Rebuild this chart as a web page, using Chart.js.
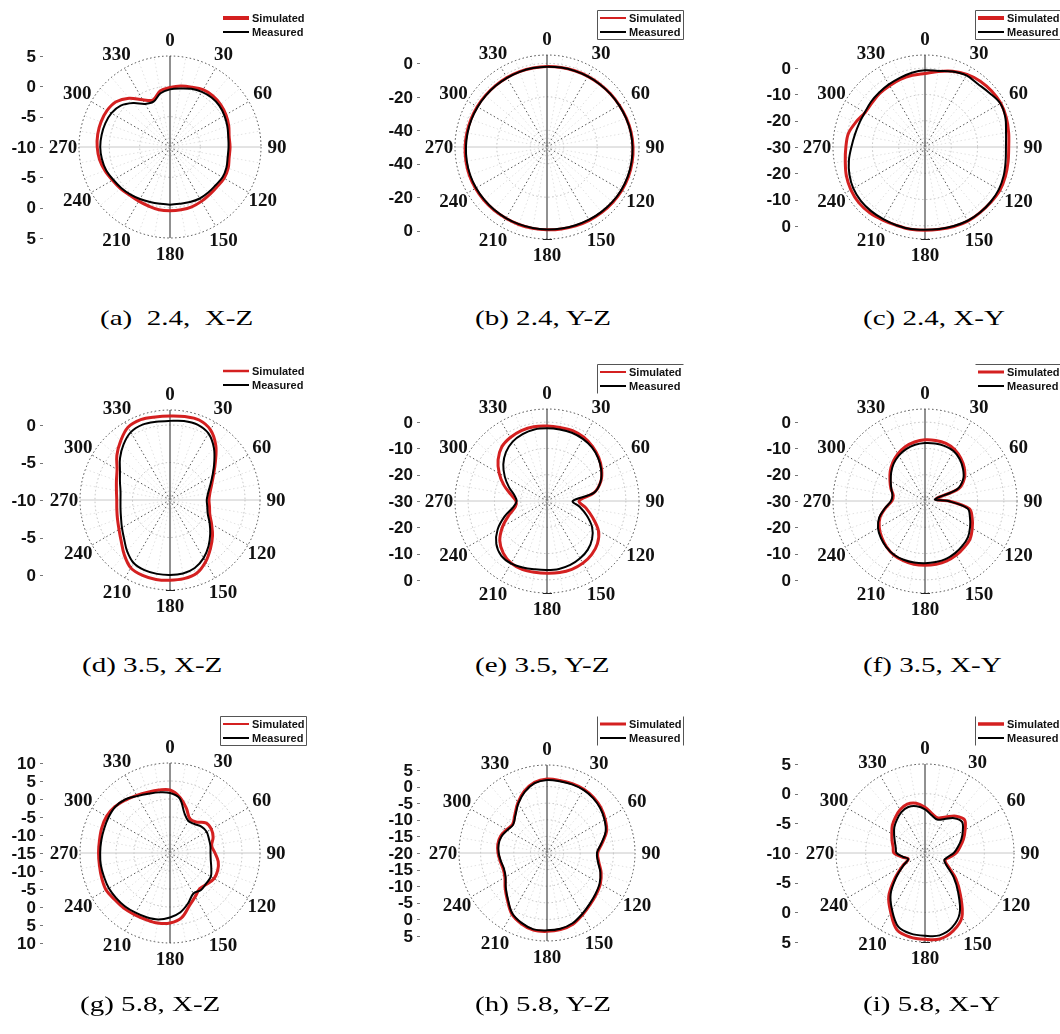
<!DOCTYPE html>
<html>
<head>
<meta charset="utf-8">
<script src="https://cdn.jsdelivr.net/npm/chart.js@4.4.0/dist/chart.umd.min.js"></script>
<style>
  html, body { margin: 0; padding: 0; background: #fff; overflow: hidden; }
  #page { position: relative; width: 1060px; height: 1034px; }
  #page canvas { position: absolute; }
  .cap {
    position: absolute;
    font-family: "Liberation Serif", "Times New Roman", serif;
    font-size: 22px;
    line-height: 22px;
    white-space: pre;
    color: #000;
    transform-origin: 0 0;
    transform: scaleX(1.32);
  }
</style>
</head>
<body>
<div id="page"></div>
<script>
// 角度 (每 10 度一个点)
const angles = [0, 10, 20, 30, 40, 50, 60, 70, 80, 90, 100, 110, 120, 130, 140, 150, 160, 170,
                180, 190, 200, 210, 220, 230, 240, 250, 260, 270, 280, 290, 300, 310, 320, 330, 340, 350];
const angleTicks = [0, 30, 60, 90, 120, 150, 180, 210, 240, 270, 300, 330];

// (a) 2.4, X-Z
const simA = [-0.2, 0.2, 0.5, 0.9, 1.0, 0.9, 0.65, 0.3, -0.1, -0.1, -0.1, 0.2, 0.3, 0.15, 0.2, 0.35, 0.5, 0.5,
              0.5, 0.5, 0.35, 0.3, 0.35, 0.65, 0.95, 1.4, 1.8, 2.0, 2.1, 2.1, 2.0, 1.6, 0.5, -1.0, -1.75, -0.6];
const measA = [-0.5, -0.2, 0.2, 0.5, 0.65, 0.6, 0.35, 0.05, -0.25, -0.35, -0.35, -0.1, 0.0, -0.2, -0.2, -0.2, -0.35, -0.5,
               -0.5, -0.5, -0.35, -0.1, 0.2, 0.5, 0.8, 1.2, 1.4, 1.5, 1.45, 1.35, 1.15, 0.6, -0.55, -1.8, -2.05, -1.0];
const ticksA = [5, 0, -5, -10];

// (b) 2.4, Y-Z
const simB = [-1.9, -1.7, -1.5, -1.2, -0.9, -0.5, -0.05, 0.5, 1.05, 1.45, 1.7, 1.8, 1.7, 1.45, 1.05, 0.6, 0.15, -0.25,
              -0.5, -0.6, -0.7, -0.8, -0.7, -0.65, -0.6, -0.6, -0.8, -1.05, -1.35, -1.6, -1.8, -2.0, -2.1, -2.1, -2.05, -2.0];
const measB = [-2.0, -1.8, -1.6, -1.3, -1.0, -0.6, -0.2, 0.3, 0.8, 1.1, 1.3, 1.4, 1.3, 1.0, 0.6, 0.2, -0.2, -0.5,
               -0.7, -0.8, -0.9, -0.95, -0.95, -1.0, -1.05, -1.1, -1.3, -1.55, -1.75, -1.95, -2.1, -2.2, -2.25, -2.25, -2.2, -2.1];
const ticksB = [0, -20, -40];

// (c) 2.4, X-Y
const simC = [-2.0, -0.8, 0.7, 1.9, 2.7, 3.1, 3.3, 2.9, 2.3, 1.85, 2.1, 2.55, 2.9, 2.7, 2.55, 2.55, 2.2, 1.8,
              1.7, 1.8, 1.75, 2.1, 2.7, 2.9, 2.55, 1.85, 0.8, 0.1, -0.4, -2.1, -3.7, -3.75, -3.3, -3.05, -2.6, -2.3];
const measC = [-0.8, -0.6, 0.6, 1.5, 1.3, 2.0, 3.1, 2.55, 1.3, 0.8, 1.15, 1.85, 2.4, 2.55, 2.55, 2.4, 2.0, 1.7,
               1.5, 1.7, 1.7, 1.7, 1.85, 1.85, 1.5, 0.6, -0.6, -2.0, -2.9, -3.4, -3.6, -3.2, -2.9, -2.5, -2.0, -1.3];
const ticksC = [0, -10, -20, -30];

// (d) 3.5, X-Z
const simD = [1.2, 1.3, 1.35, 0.8, -0.5, -2.1, -3.3, -4.1, -4.6, -4.8, -4.65, -4.35, -3.6, -2.6, -1.6, -0.5, 0.4, 0.65,
              0.7, 0.75, 0.7, 0.45, -0.5, -1.5, -2.15, -2.55, -2.8, -2.9, -2.75, -2.4, -1.85, -0.75, 0.25, 1.2, 1.4, 1.25];
const measD = [0.55, 0.7, 0.7, 0.25, -0.9, -2.3, -3.45, -4.3, -4.85, -5.1, -4.95, -4.65, -3.9, -3.0, -2.0, -1.05, -0.35, -0.05,
               0.0, 0.0, -0.05, -0.3, -1.1, -2.0, -2.6, -3.05, -3.3, -3.4, -3.3, -2.9, -2.3, -1.3, -0.35, 0.45, 0.7, 0.6];
const ticksD = [0, -5, -10];

// (e) 3.5, Y-Z
const simE = [-1.5, -1.6, -1.5, -2.0, -3.0, -4.3, -6.0, -8.2, -11.8, -17.8, -15.0, -11.5, -7.4, -4.9, -3.5, -2.7, -2.35, -2.35,
              -2.5, -2.5, -2.35, -2.7, -4.1, -6.55, -10.5, -14.7, -17.8, -18.2, -16.1, -12.6, -9.0, -5.7, -3.2, -2.1, -1.5, -1.3];
const measE = [-2.35, -2.35, -2.35, -2.7, -3.4, -4.6, -6.2, -8.3, -11.8, -20.2, -17.4, -13.9, -10.2, -7.6, -5.85, -4.8, -4.1, -3.75,
               -3.75, -3.6, -3.05, -2.55, -2.9, -4.8, -8.3, -12.85, -17.05, -18.45, -17.4, -14.6, -11.45, -8.3, -5.7, -3.9, -2.9, -2.35];
const ticksE = [0, -10, -20, -30];

// (f) 3.5, X-Y
const simF = [-6.7, -6.6, -6.7, -7.4, -8.8, -10.5, -12.7, -16.4, -25.8, -20.9, -12.9, -10.9, -9.25, -7.6, -6.9, -6.2, -5.75, -5.6,
              -5.55, -5.55, -5.85, -6.25, -7.25, -8.5, -9.9, -11.8, -14.8, -17.4, -17.75, -16.2, -14.6, -12.7, -10.9, -9.35, -8.05, -7.2];
const measF = [-7.95, -7.8, -7.8, -8.1, -9.35, -11.1, -13.2, -17.05, -26.15, -21.25, -13.55, -11.8, -10.2, -8.65, -7.8, -7.1, -6.55, -6.4,
               -6.3, -6.2, -6.2, -6.4, -7.1, -8.1, -9.35, -11.45, -14.6, -17.05, -17.4, -16.35, -14.95, -13.2, -11.45, -10.05, -9.0, -8.3];
const ticksF = [0, -10, -20, -30];

// (g) 5.8, X-Z
const simG = [2.5, 0.75, -1.75, -4.0, -3.75, -2.0, -1.75, -2.25, -3.25, -2.5, -1.4, -0.9, -0.85, -1.6, -2.1, -1.0, 0.65, 3.3,
              4.45, 4.75, 4.65, 4.75, 5.0, 5.1, 5.5, 5.2, 4.9, 4.85, 4.9, 5.2, 5.35, 5.0, 4.2, 3.5, 3.0, 2.75];
const measG = [1.65, 0.4, -3.25, -4.75, -4.5, -3.6, -3.25, -3.5, -3.6, -3.75, -3.5, -2.8, -1.9, -1.85, -1.6, -2.0, -0.2, 1.7,
               2.9, 3.75, 4.0, 4.15, 4.4, 4.5, 4.6, 4.5, 4.5, 4.4, 4.4, 4.5, 4.75, 4.9, 4.4, 3.25, 2.5, 2.1];
const ticksG = [10, 5, 0, -5, -10, -15];

// (h) 5.8, Y-Z
const simH = [2.25, 2.2, 2.25, 2.2, 1.85, 1.2, 0.25, -0.9, -3.15, -4.75, -4.15, -2.65, -1.45, -0.65, 0.25, 1.45, 2.8, 3.4,
              3.6, 3.6, 2.65, 1.2, -1.45, -3.55, -5.35, -5.95, -5.7, -5.25, -4.95, -5.15, -5.95, -6.5, -4.95, -2.5, -0.15, 1.6];
const measH = [2.0, 1.95, 2.0, 1.95, 1.6, 0.95, 0.0, -1.2, -3.4, -4.95, -4.4, -2.9, -1.7, -0.9, 0.0, 1.2, 2.5, 3.15,
               3.3, 3.35, 2.4, 0.95, -1.7, -3.8, -5.6, -6.2, -5.9, -5.45, -5.2, -5.4, -6.2, -6.7, -5.2, -2.75, -0.4, 1.35];
const ticksH = [5, 0, -5, -10, -15, -20];

// (i) 5.8, X-Y
const simI = [-2.3, -3.25, -3.7, -3.0, -1.9, -1.3, -2.2, -3.1, -4.0, -4.75, -5.8, -6.4, -5.5, -3.2, -0.7, 2.45, 3.95, 4.7,
              4.55, 4.4, 3.8, 1.55, -0.5, -3.4, -5.65, -7.0, -6.1, -4.75, -4.55, -4.1, -3.55, -2.8, -2.2, -1.6, -1.25, -1.5];
const measI = [-2.65, -3.55, -4.0, -3.4, -2.35, -1.85, -2.65, -3.5, -4.4, -5.15, -6.1, -6.55, -5.8, -3.7, -1.3, 1.7, 3.35, 4.1,
               3.95, 3.8, 3.2, 1.1, -1.0, -3.7, -5.8, -7.0, -6.25, -5.2, -5.0, -4.6, -4.0, -3.25, -2.65, -2.05, -1.75, -2.0];
const ticksI = [5, 0, -5, -10];

const captions = ['(a)  2.4,  X-Z', '(b) 2.4, Y-Z', '(c) 2.4, X-Y',
                  '(d) 3.5, X-Z', '(e) 3.5, Y-Z', '(f) 3.5, X-Y',
                  '(g) 5.8, X-Z', '(h) 5.8, Y-Z', '(i) 5.8, X-Y'];

// 每个子图的布局
const panels = [
  { sim: simA, meas: measA, ticks: ticksA, min: -10, max: 5,   step: 5,  cx: 170, cy: 147, R: 91, legW: 4,   frame: '',     cap180: false, capX: 100, capY: 307 },
  { sim: simB, meas: measB, ticks: ticksB, min: -50, max: 5,   step: 20, cx: 547, cy: 147, R: 92, legW: 2,   frame: 'tblr', cap180: true,  capX: 475, capY: 307 },
  { sim: simC, meas: measC, ticks: ticksC, min: -30, max: 5,   step: 10, cx: 925, cy: 147, R: 92, legW: 4,   frame: 'tblr', cap180: true,  capX: 863, capY: 307 },
  { sim: simD, meas: measD, ticks: ticksD, min: -10, max: 2,   step: 5,  cx: 170, cy: 500, R: 90, legW: 2.5, frame: '',     cap180: true,  capX: 82,  capY: 654 },
  { sim: simE, meas: measE, ticks: ticksE, min: -30, max: 5,   step: 10, cx: 547, cy: 501, R: 92, legW: 2,   frame: 'tl',   cap180: true,  capX: 475, capY: 654 },
  { sim: simF, meas: measF, ticks: ticksF, min: -30, max: 5,   step: 10, cx: 925, cy: 501, R: 92, legW: 3,   frame: 't',    cap180: true,  capX: 863, capY: 654 },
  { sim: simG, meas: measG, ticks: ticksG, min: -15, max: 10,  step: 5,  cx: 170, cy: 853, R: 90, legW: 2,   frame: 'tblr', cap180: false, capX: 80,  capY: 993 },
  { sim: simH, meas: measH, ticks: ticksH, min: -20, max: 6.5, step: 5,  cx: 547, cy: 853, R: 88, legW: 3,   frame: 'lr',   cap180: false, capX: 475, capY: 993 },
  { sim: simI, meas: measI, ticks: ticksI, min: -10, max: 5,   step: 5,  cx: 925, cy: 853, R: 89, legW: 3.5, frame: 'l',    cap180: true,  capX: 863, capY: 993 }
];

const W = 315, H = 290, OX = 175, OY = 147;
const dotted = [1.5, 2.5];

// 角度标签、左侧刻度、图例
function makeDecor(p) {
  return {
    id: 'decor',
    afterDraw(chart) {
      const ctx = chart.ctx;
      const s = chart.scales.r;
      ctx.save();
      ctx.fillStyle = '#111';

      ctx.font = 'bold 19px "Liberation Serif", "Times New Roman", serif';
      ctx.textAlign = 'center';
      ctx.textBaseline = 'middle';
      angleTicks.forEach(a => {
        const pos = s.getPointPosition(angles.indexOf(a), s.drawingArea + 16);
        ctx.fillText(String(a), pos.x, pos.y + 1);
      });

      // 0-180 轴底端的小横线
      if (p.cap180) {
        const end = s.getPointPosition(angles.indexOf(180), s.drawingArea);
        ctx.fillStyle = '#222';
        ctx.fillRect(end.x - 4, Math.round(end.y), 9, 1);
      }

      ctx.font = 'bold 17px "Liberation Sans", Arial, sans-serif';
      ctx.textAlign = 'right';
      const tx = s.xCenter - 134;
      p.ticks.forEach(v => {
        const d = s.getDistanceFromCenterForValue(v);
        const ys = d < 1 ? [s.yCenter] : [s.yCenter - d, s.yCenter + d];
        ys.forEach(y => {
          ctx.fillStyle = '#111';
          ctx.fillText(String(v), tx, y + 1);
          ctx.fillStyle = '#777';
          ctx.fillRect(tx + 4, Math.round(y), 3, 1);
        });
      });

      // 图例
      const lx = s.xCenter + 53, ly = s.yCenter - 129;
      ctx.font = 'bold 11px "Liberation Sans", Arial, sans-serif';
      ctx.textAlign = 'left';
      chart.data.datasets.forEach((ds, i) => {
        const y = ly + i * 14;
        ctx.strokeStyle = ds.borderColor;
        ctx.lineWidth = i === 0 ? p.legW : 2;
        ctx.beginPath();
        ctx.moveTo(lx, y);
        ctx.lineTo(lx + 26, y);
        ctx.stroke();
        ctx.fillStyle = '#111';
        ctx.fillText(ds.label, lx + 29, y + 1);
      });
      const bx0 = s.xCenter + 50.5, bx1 = s.xCenter + 136.5;
      const by0 = s.yCenter - 136.5, by1 = s.yCenter - 107.5;
      ctx.strokeStyle = '#555';
      ctx.lineWidth = 1;
      ctx.beginPath();
      if (p.frame.includes('t')) { ctx.moveTo(bx0, by0); ctx.lineTo(bx1, by0); }
      if (p.frame.includes('b')) { ctx.moveTo(bx0, by1); ctx.lineTo(bx1, by1); }
      if (p.frame.includes('l')) { ctx.moveTo(bx0, by0); ctx.lineTo(bx0, by1); }
      if (p.frame.includes('r')) { ctx.moveTo(bx1, by0); ctx.lineTo(bx1, by1); }
      ctx.stroke();
      ctx.restore();
    }
  };
}

const page = document.getElementById('page');

panels.forEach((p, k) => {
  const cv = document.createElement('canvas');
  cv.width = W;
  cv.height = H;
  cv.style.left = (p.cx - OX) + 'px';
  cv.style.top = (p.cy - OY) + 'px';
  page.appendChild(cv);

  new Chart(cv, {
    type: 'radar',
    data: {
      labels: angles,
      datasets: [
        { label: 'Simulated', data: p.sim, borderColor: '#d42020', borderWidth: 3, fill: false,
          pointRadius: 0, tension: 0.35, order: 1 },
        { label: 'Measured', data: p.meas, borderColor: '#000000', borderWidth: 2, fill: false,
          pointRadius: 0, tension: 0.35, order: 0 }
      ]
    },
    options: {
      responsive: false,
      animation: false,
      devicePixelRatio: 1,
      layout: {
        padding: { left: OX - p.R, right: W - OX - p.R, top: OY - p.R, bottom: H - OY - p.R }
      },
      plugins: { legend: { display: false }, tooltip: { enabled: false } },
      scales: {
        r: {
          min: p.min,
          max: p.max,
          startAngle: 0,
          ticks: { display: false, stepSize: p.step },
          pointLabels: { display: false },
          grid: {
            circular: true,
            color: c => (c.tick && c.tick.value === p.max ? '#444' : '#bdbdbd'),
            lineWidth: 1,
            borderDash: dotted
          },
          border: { dash: dotted },
          angleLines: {
            color: c => {
              const a = angles[c.index];
              if (a === 0 || a === 180) return '#222';
              if (a === 90 || a === 270) return '#c8c8c8';
              return a % 30 === 0 ? '#555' : '#e2e2e2';
            },
            lineWidth: 1,
            borderDash: c => (angles[c.index] % 90 === 0 ? [] : dotted)
          }
        }
      }
    },
    plugins: [makeDecor(p)]
  });

  const cap = document.createElement('div');
  cap.className = 'cap';
  cap.textContent = captions[k];
  cap.style.left = p.capX + 'px';
  cap.style.top = p.capY + 'px';
  page.appendChild(cap);
});
</script>
</body>
</html>
